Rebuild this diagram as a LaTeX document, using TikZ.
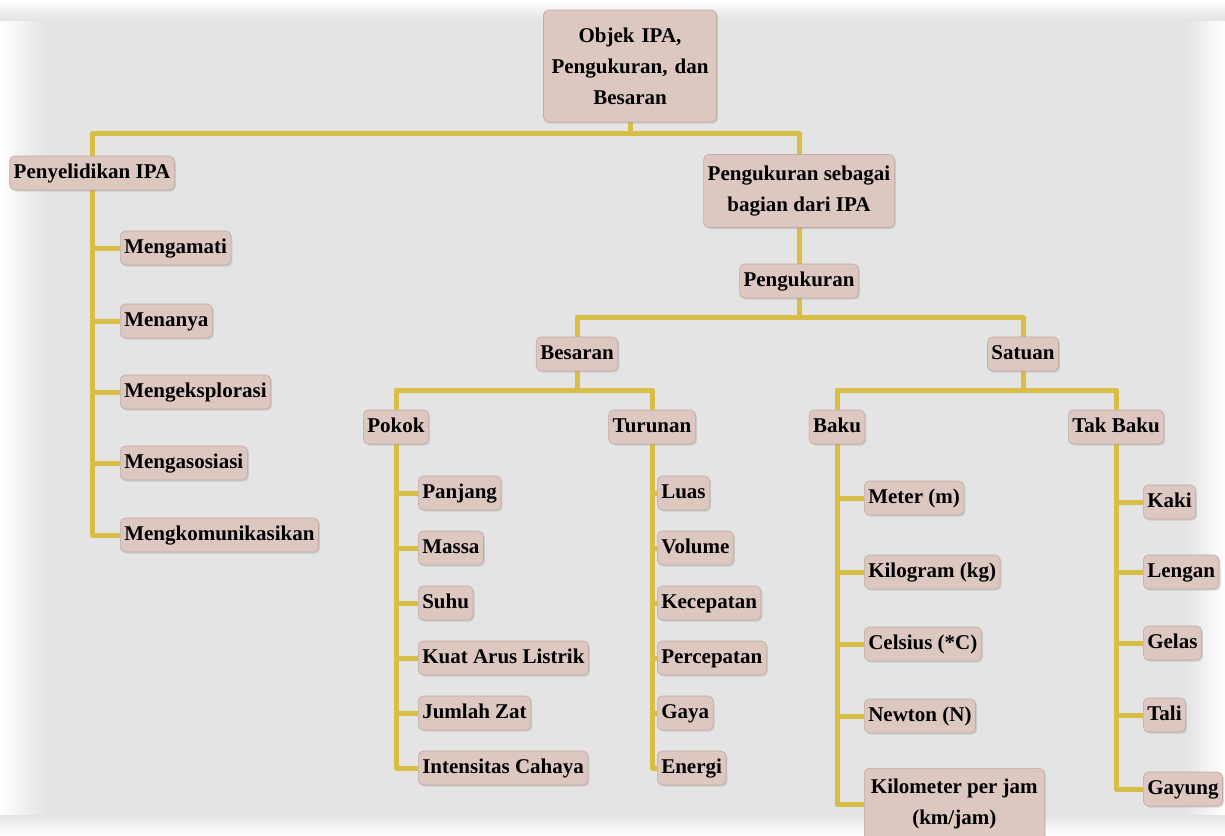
\documentclass[tikz,border=0pt]{standalone}
\usepackage{fontspec}
\setmainfont{Liberation Serif}
\usetikzlibrary{shadows}
\definecolor{bgc}{HTML}{E4E4E4}
\definecolor{nodefill}{HTML}{DCC7C1}
\definecolor{nodeline}{HTML}{C3AAA3}
\definecolor{linkc}{HTML}{D9BE45}
\pgfdeclarelayer{backlayer}
\pgfdeclarelayer{linelayer}
\pgfsetlayers{backlayer,linelayer,main}
\begin{document}
\begin{tikzpicture}[x=1pt,y=-1pt,
  box/.style={draw=nodeline, line width=0.6pt, fill=nodefill, rounded corners=5pt,
    font=\fontsize{21}{31}\selectfont\bfseries, text height=15pt, text depth=5pt,
    inner xsep=4pt, inner ysep=7pt,
    drop shadow={opacity=0.25, shadow xshift=1.5pt, shadow yshift=-1.5pt}},
  multi/.style={align=center, text height=, text depth=},
  link/.style={draw=linkc, line width=5pt, line join=round}
]
\useasboundingbox (0,0) rectangle (1225,835);
\begin{pgfonlayer}{backlayer}
  \fill[bgc] (0,0) rectangle (1225,835);
  \shade[left color=white, right color=bgc] (0,0) rectangle (45,835);
  \shade[left color=bgc, right color=white] (1185,0) rectangle (1225,835);
  \shade[top color=white, bottom color=bgc] (0,0) rectangle (1225,20);
  \shade[top color=bgc, bottom color=white] (0,815) rectangle (1225,835);
\end{pgfonlayer}

% top levels
\node[box, multi, text width=165pt, minimum height=112pt] (root) at (630,66) {Objek IPA,\\Pengukuran, dan\\Besaran};
\node[box] (peny) at (92,173) {Penyelidikan IPA};
\node[box, multi, minimum height=73pt] (pgs) at (799,191) {Pengukuran sebagai\\bagian dari IPA};
\node[box] (peng) at (799,281) {Pengukuran};
\node[box] (bes) at (577,354) {Besaran};
\node[box] (sat) at (1023,354) {Satuan};
\node[box] (pokok) at (396,427) {Pokok};
\node[box] (turunan) at (652,427) {Turunan};
\node[box] (baku) at (837,427) {Baku};
\node[box] (takbaku) at (1116,427) {Tak Baku};

% Penyelidikan children
\node[box, anchor=west] (p1) at (120,248) {Mengamati};
\node[box, anchor=west] (p2) at (120,321) {Menanya};
\node[box, anchor=west] (p3) at (120,392) {Mengeksplorasi};
\node[box, anchor=west] (p4) at (120,463) {Mengasosiasi};
\node[box, anchor=west] (p5) at (120,535) {Mengkomunikasikan};

% Pokok children
\node[box, anchor=west] (k1) at (418,493) {Panjang};
\node[box, anchor=west] (k2) at (418,548) {Massa};
\node[box, anchor=west] (k3) at (418,603) {Suhu};
\node[box, anchor=west] (k4) at (418,658) {Kuat Arus Listrik};
\node[box, anchor=west] (k5) at (418,713) {Jumlah Zat};
\node[box, anchor=west] (k6) at (418,768) {Intensitas Cahaya};

% Turunan children
\node[box, anchor=west] (t1) at (657,493) {Luas};
\node[box, anchor=west] (t2) at (657,548) {Volume};
\node[box, anchor=west] (t3) at (657,603) {Kecepatan};
\node[box, anchor=west] (t4) at (657,658) {Percepatan};
\node[box, anchor=west] (t5) at (657,713) {Gaya};
\node[box, anchor=west] (t6) at (657,768) {Energi};

% Baku children
\node[box, anchor=west] (b1) at (864,498) {Meter (m)};
\node[box, anchor=west] (b2) at (864,572) {Kilogram (kg)};
\node[box, anchor=west] (b3) at (864,644) {Celsius (*C)};
\node[box, anchor=west] (b4) at (864,716) {Newton (N)};
\node[box, multi, anchor=north west, minimum width=180pt, minimum height=72pt] (b5) at (864,768) {Kilometer per jam\\(km/jam)};

% Tak Baku children
\node[box, anchor=west] (n1) at (1143,502) {Kaki};
\node[box, anchor=west] (n2) at (1143,572) {Lengan};
\node[box, anchor=west] (n3) at (1143,643) {Gelas};
\node[box, anchor=west] (n4) at (1143,715) {Tali};
\node[box, anchor=west] (n5) at (1143,789) {Gayung};

\coordinate (barA) at (0,133);
\coordinate (barB) at (0,317);
\coordinate (barC) at (0,390);

\begin{pgfonlayer}{linelayer}
  \draw[link] (root.south) -- (root.south |- barA) -| (peny.north);
  \draw[link] (root.south |- barA) -| (pgs.north);
  \draw[link] (pgs.south) -- (peng.north);
  \draw[link] (peng.south) -- (peng.south |- barB) -| (bes.north);
  \draw[link] (peng.south |- barB) -| (sat.north);
  \draw[link] (bes.south) -- (bes.south |- barC) -| (pokok.north);
  \draw[link] (bes.south |- barC) -| (turunan.north);
  \draw[link] (sat.south) -- (sat.south |- barC) -| (baku.north);
  \draw[link] (sat.south |- barC) -| (takbaku.north);
  \foreach \c in {p1,p2,p3,p4,p5} \draw[link] (peny.south) |- (\c.west);
  \foreach \c in {k1,k2,k3,k4,k5,k6} \draw[link] (pokok.south) |- (\c.west);
  \foreach \c in {t1,t2,t3,t4,t5,t6} \draw[link] (turunan.south) |- (\c.west);
  \foreach \c in {b1,b2,b3,b4,b5} \draw[link] (baku.south) |- (\c.west);
  \foreach \c in {n1,n2,n3,n4,n5} \draw[link] (takbaku.south) |- (\c.west);
\end{pgfonlayer}
\end{tikzpicture}
\end{document}
